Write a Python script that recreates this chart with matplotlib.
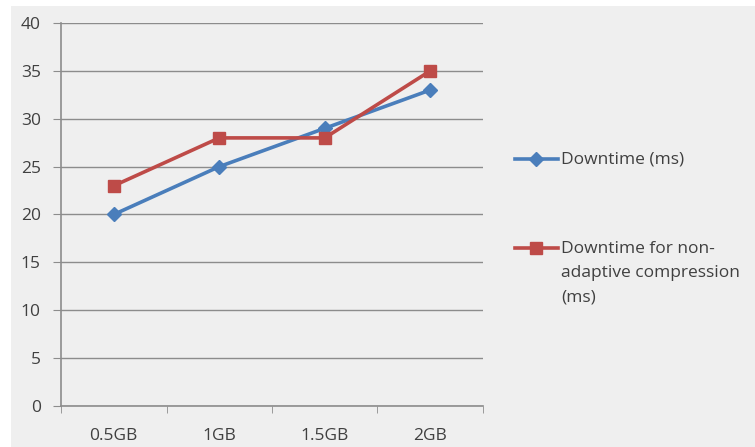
import matplotlib
matplotlib.use("Agg")
import matplotlib.pyplot as plt
from matplotlib.lines import Line2D

# downtime measurements per memory size
sizes = ["0.5GB", "1GB", "1.5GB", "2GB"]
downtime = [20, 25, 29, 33]
downtime_nonadaptive = [23, 28, 28, 35]
series_labels = ["Downtime (ms)", "Downtime for non-\nadaptive compression\n(ms)"]

blue = "#4A7EBB"
red = "#BE4B48"
grid_col = "#8C8C8C"
text_col = "#404040"
fs = 12.5

plt.rcParams["font.family"] = ["Open Sans", "DejaVu Sans"]

W, H = 755, 447
fig = plt.figure(figsize=(W / 100, H / 100), dpi=100)
fig.patch.set_facecolor("white")
# grey chart area behind everything
fig.patches.append(plt.Rectangle((11 / W, 0), 1, 1 - 6 / H, transform=fig.transFigure,
                                 facecolor="#EFEFEF", edgecolor="none", zorder=-10))

ax = fig.add_axes([61 / W, 1 - 406 / H, 422 / W, 383 / H])
ax.set_facecolor("none")

x = list(range(len(sizes)))
ax.plot(x, downtime, color=blue, lw=2.6, marker="D", ms=7, mfc=blue, mec=blue, zorder=3)
ax.plot(x, downtime_nonadaptive, color=red, lw=2.6, marker="s", ms=9, mfc=red, mec=red, zorder=3)

ax.set_xlim(-0.5, len(sizes) - 0.5)
ax.set_ylim(0, 40)
ax.set_yticks(range(0, 41, 5))
ax.set_xticks(x)
ax.set_xticklabels(sizes)
ax.set_xticks([i - 0.5 for i in range(len(sizes) + 1)], minor=True)

ax.grid(axis="y", color=grid_col, lw=1)
ax.set_axisbelow(True)
for s in ["top", "right"]:
    ax.spines[s].set_visible(False)
for s in ["left", "bottom"]:
    ax.spines[s].set_color(grid_col)
    ax.spines[s].set_linewidth(1.2)

ax.tick_params(axis="y", length=5.5, color=grid_col, labelcolor=text_col, labelsize=fs, pad=9)
ax.tick_params(axis="x", which="major", length=0, labelcolor=text_col, labelsize=fs, pad=16)
ax.tick_params(axis="x", which="minor", length=5, color=grid_col)

# legend drawn by hand so the marker sits on the first text line
legend_rows = [(159, blue, "D", 7), (248, red, "s", 9)]
for (y, col, mk, ms), label in zip(legend_rows, series_labels):
    fy = 1 - y / H
    fig.add_artist(Line2D([515 / W, 558 / W], [fy, fy], color=col, lw=2.6, transform=fig.transFigure))
    fig.add_artist(Line2D([536 / W], [fy], color=col, marker=mk, ms=ms, transform=fig.transFigure))
    fig.text(561 / W, 1 - (y - 7) / H, label, fontsize=fs, color=text_col,
             va="top", ha="left", linespacing=1.7)

fig.savefig("out.png", dpi=100, facecolor=fig.get_facecolor())
